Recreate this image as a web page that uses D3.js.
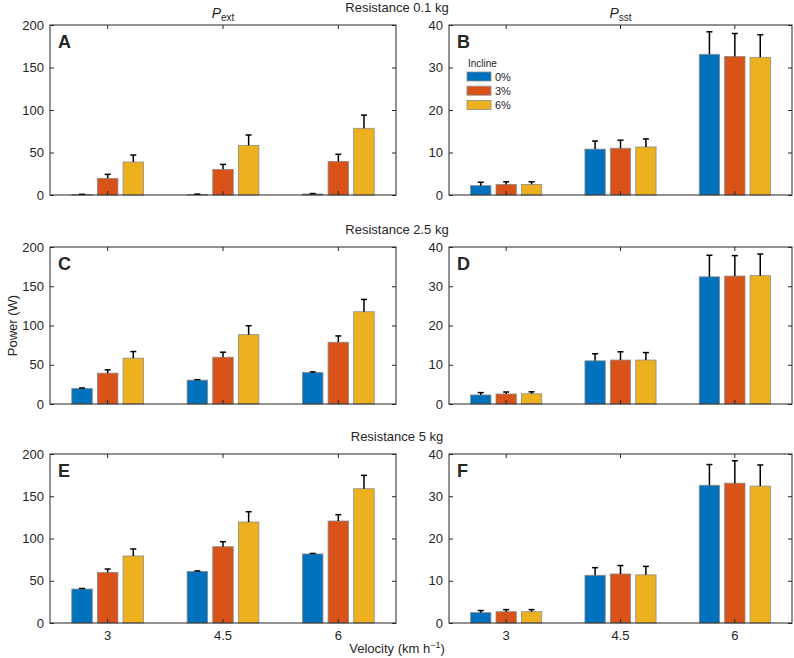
<!DOCTYPE html>
<html>
<head>
<meta charset="utf-8">
<script src="https://cdn.jsdelivr.net/npm/d3@7"></script>
<style>
  body { margin: 0; background: #fff; }
  svg text { font-family: "Liberation Sans", Arial, sans-serif; fill: #262626; }
</style>
</head>
<body>
<div id="chart"></div>
<script>
// 1: DATA (rows = velocity, columns = incline 0%, 3%, 6%)
const velocities = ["3", "4.5", "6"];
const inclines = ["0%", "3%", "6%"];
const colors = ["#0072BD", "#D95319", "#EDB120"];

const pExt01 = [[0.5, 19.6, 38.8], [0.7, 30.2, 58.4], [1.2, 39.6, 78.5]];
const pExt01Err = [[0.3, 4.7, 8.2], [0.4, 5.8, 12.2], [0.5, 8.3, 15.5]];
const pSst01 = [[2.2, 2.5, 2.5], [10.8, 11.0, 11.3], [33.1, 32.6, 32.4]];
const pSst01Err = [[0.8, 0.6, 0.6], [1.9, 1.9, 1.9], [5.3, 5.4, 5.3]];

const pExt25 = [[19.8, 39.3, 58.4], [30.4, 59.6, 88.3], [40.1, 78.7, 117.5]];
const pExt25Err = [[0.6, 4.2, 8.4], [0.6, 6.4, 11.4], [0.8, 8.0, 15.7]];
const pSst25 = [[2.3, 2.55, 2.6], [11.0, 11.2, 11.2], [32.4, 32.6, 32.7]];
const pSst25Err = [[0.6, 0.5, 0.5], [1.8, 2.1, 1.9], [5.5, 5.2, 5.5]];

const pExt5 = [[40.2, 59.9, 79.3], [61.1, 90.3, 119.5], [81.7, 120.7, 158.9]];
const pExt5Err = [[0.6, 4.0, 8.3], [0.5, 5.9, 12.2], [0.6, 7.5, 15.8]];
const pSst5 = [[2.45, 2.67, 2.67], [11.3, 11.6, 11.4], [32.6, 33.1, 32.4]];
const pSst5Err = [[0.5, 0.5, 0.5], [1.8, 2.0, 2.0], [4.9, 5.3, 5.0]];

const extTicks = [0, 50, 100, 150, 200];
const sstTicks = [0, 10, 20, 30, 40];
const rowTitles = ["Resistance 0.1 kg", "Resistance 2.5 kg", "Resistance 5 kg"];

// 2: LAYOUT
const W = 794, H = 658;
const cols = [[50, 396], [449, 792]];
const rows = [[25, 195], [247, 404], [454, 623]];

const svg = d3.select("#chart").append("svg")
    .attr("width", W)
    .attr("height", H);

const panels = [
    { letter: "A", row: 0, col: 0, mean: pExt01, err: pExt01Err, max: 200, ticks: extTicks },
    { letter: "B", row: 0, col: 1, mean: pSst01, err: pSst01Err, max: 40, ticks: sstTicks, legend: true },
    { letter: "C", row: 1, col: 0, mean: pExt25, err: pExt25Err, max: 200, ticks: extTicks },
    { letter: "D", row: 1, col: 1, mean: pSst25, err: pSst25Err, max: 40, ticks: sstTicks },
    { letter: "E", row: 2, col: 0, mean: pExt5, err: pExt5Err, max: 200, ticks: extTicks },
    { letter: "F", row: 2, col: 1, mean: pSst5, err: pSst5Err, max: 40, ticks: sstTicks }
];

const axisColor = "#262626";

function drawPanel(p) {
    const [x0, x1] = cols[p.col];
    const [y0, y1] = rows[p.row];
    const w = x1 - x0, h = y1 - y0;
    const g = svg.append("g").attr("transform", `translate(${x0},${y0})`);

    // 3: SCALES
    const xScale = d3.scaleBand().domain(velocities).range([0, w]).padding(0);
    const groupW = xScale.bandwidth() * 2 / 3;
    const xInner = d3.scaleBand().domain(inclines)
        .range([-groupW / 2, groupW / 2])
        .paddingInner(0.2).paddingOuter(0.1);
    const yScale = d3.scaleLinear().domain([0, p.max]).range([h, 0]);

    // 4: BARS
    const flat = [];
    velocities.forEach((v, i) => inclines.forEach((c, j) => {
        flat.push({ v, c, j, mean: p.mean[i][j], err: p.err[i][j] });
    }));

    g.selectAll("rect.bar")
        .data(flat)
        .enter().append("rect")
        .attr("class", "bar")
        .attr("x", d => xScale(d.v) + xScale.bandwidth() / 2 + xInner(d.c))
        .attr("y", d => yScale(d.mean))
        .attr("width", xInner.bandwidth())
        .attr("height", d => h - yScale(d.mean))
        .attr("fill", d => colors[d.j])
        .attr("stroke", "#8c8c8c")
        .attr("stroke-width", 0.8);

    // 5: ERROR BARS (upper only)
    const cx = d => xScale(d.v) + xScale.bandwidth() / 2 + xInner(d.c) + xInner.bandwidth() / 2;
    g.selectAll("line.err")
        .data(flat)
        .enter().append("line")
        .attr("x1", cx).attr("x2", cx)
        .attr("y1", d => yScale(d.mean))
        .attr("y2", d => yScale(d.mean + d.err))
        .attr("stroke", "#000")
        .attr("stroke-width", 1.5);
    g.selectAll("line.cap")
        .data(flat)
        .enter().append("line")
        .attr("x1", d => cx(d) - 3).attr("x2", d => cx(d) + 3)
        .attr("y1", d => yScale(d.mean + d.err))
        .attr("y2", d => yScale(d.mean + d.err))
        .attr("stroke", "#000")
        .attr("stroke-width", 1.5);

    // 6: AXES (ticks pointing inward on all four sides)
    const yl = g.append("g").call(d3.axisLeft(yScale).tickValues(p.ticks).tickSize(-4).tickPadding(6));
    const yr = g.append("g").attr("transform", `translate(${w},0)`)
        .call(d3.axisRight(yScale).tickValues(p.ticks).tickSize(-4).tickFormat(""));
    const xb = g.append("g").attr("transform", `translate(0,${h})`)
        .call(d3.axisBottom(xScale).tickSize(-4).tickPadding(8)
            .tickFormat(p.row === 2 ? (d => d) : ""));
    const xt = g.append("g")
        .call(d3.axisTop(xScale).tickSize(-4).tickFormat(""));
    [yl, yr, xb, xt].forEach(a => {
        a.select(".domain").remove();
        a.selectAll("line").attr("stroke", axisColor);
        a.selectAll("text").style("font-size", "13px").attr("fill", axisColor);
    });
    g.append("rect")
        .attr("width", w).attr("height", h)
        .attr("fill", "none")
        .attr("stroke", axisColor)
        .attr("stroke-width", 1);

    // 7: PANEL LETTER
    g.append("text")
        .attr("x", 8).attr("y", 23)
        .style("font-size", "18px")
        .style("font-weight", "bold")
        .attr("fill", "#000")
        .text(p.letter);

    // 8: LEGEND
    if (p.legend) {
        const lg = g.append("g").attr("transform", "translate(18,37)");
        lg.append("text")
            .attr("x", 1).attr("y", 5)
            .style("font-size", "10px")
            .attr("fill", "#444")
            .text("Incline");
        inclines.forEach((c, j) => {
            lg.append("rect")
                .attr("x", 0).attr("y", 10 + j * 14.2)
                .attr("width", 24).attr("height", 9)
                .attr("fill", colors[j])
                .attr("stroke", "#8c8c8c")
                .attr("stroke-width", 0.8);
            lg.append("text")
                .attr("x", 28).attr("y", 18.5 + j * 14.2)
                .style("font-size", "11px")
                .attr("fill", "#444")
                .text(c);
        });
    }
}

panels.forEach(drawPanel);

// 9: TITLES AND LABELS
rowTitles.forEach((t, i) => {
    svg.append("text")
        .attr("x", 397).attr("y", rows[i][0] - 13)
        .attr("text-anchor", "middle")
        .style("font-size", "13px")
        .text(t);
});

[["P", "ext", (cols[0][0] + cols[0][1]) / 2], ["P", "sst", (cols[1][0] + cols[1][1]) / 2]]
    .forEach(([main, sub, x]) => {
        const t = svg.append("text")
            .attr("x", x).attr("y", 18)
            .attr("text-anchor", "middle")
            .style("font-size", "14px");
        t.append("tspan").style("font-style", "italic").text(main);
        t.append("tspan").attr("dy", 3).style("font-size", "10px").text(sub);
    });

svg.append("text")
    .attr("transform", `translate(17,${(rows[1][0] + rows[1][1]) / 2}) rotate(-90)`)
    .attr("text-anchor", "middle")
    .style("font-size", "13px")
    .text("Power (W)");

const xl = svg.append("text")
    .attr("x", 397).attr("y", 653)
    .attr("text-anchor", "middle")
    .style("font-size", "13px");
xl.append("tspan").text("Velocity (km h");
xl.append("tspan").attr("dy", -5).style("font-size", "9px").text("\u22121");
xl.append("tspan").attr("dy", 5).text(")");
</script>
</body>
</html>
